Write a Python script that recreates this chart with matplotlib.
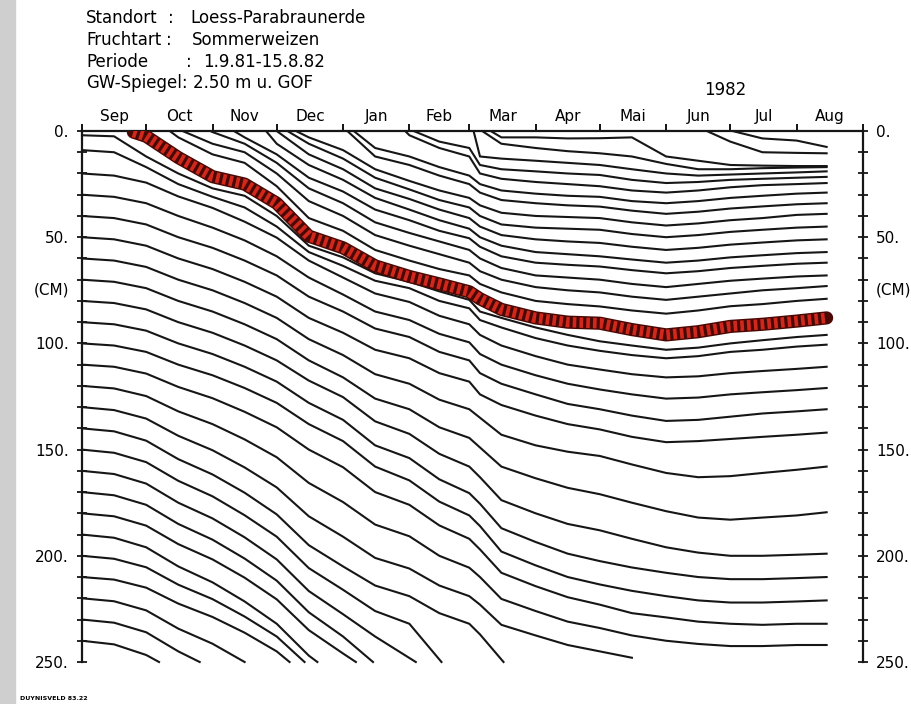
import matplotlib.pyplot as plt
from matplotlib.patches import Rectangle
from matplotlib.transforms import blended_transform_factory

# time axis: days after 1.9.81
node_days = [0, 15, 30, 45, 61, 76, 91, 106, 122, 137, 153, 167, 181, 186, 196,
             212, 227, 242, 257, 273, 288, 303, 318, 334, 348]
month_edges = [0, 30, 61, 91, 122, 153, 181, 212, 242, 273, 303, 334, 365]
month_names = ['Sep', 'Oct', 'Nov', 'Dec', 'Jan', 'Feb', 'Mar', 'Apr', 'Mai', 'Jun', 'Jul', 'Aug']

# lines starting on the left axis (depth in cm at node_days, from day 0 on)
left_depths = [
    [2, 2.5, 12, 20, 27, 30.5, 40, 54, 59.5, 67, 71, 75.5, 79.5, 85, 88, 92.5, 96, 99, 101, 103, 102, 100, 98.5, 97, 96],
    [9, 10, 17, 25, 31, 36, 45, 57, 63.5, 70.5, 74, 80, 83.5, 89, 92.5, 97.5, 101, 103.5, 105.5, 107, 106, 104, 103, 101.5, 100.6],
    [20, 21, 24.3, 30.8, 36.2, 42.7, 50.2, 61, 69, 76.5, 80.5, 87, 91, 96, 101, 106, 110, 112.3, 114.5, 116, 115.5, 114, 113, 112, 111],
    [30, 31, 34, 40, 45.5, 51.5, 59, 69, 77, 85, 89, 95.5, 99.5, 105, 110, 115, 119, 121.7, 124, 126, 125.5, 124, 123, 122, 121],
    [40, 41, 44, 50, 55, 61, 68, 78, 85, 93, 97, 104, 108, 114, 119, 124, 128.5, 131, 134, 136.5, 136, 134.5, 133, 132, 131],
    [50, 51, 54, 60, 65, 71, 78, 88, 95, 103, 107, 114, 118, 124, 129, 134, 138, 140.5, 144, 146.5, 146, 145, 144, 143, 142],
    [60, 61, 64, 70, 75, 81, 88, 98, 105.5, 114.5, 119, 126.5, 131, 135, 143, 148, 151, 153, 157, 161, 163, 162.5, 161, 159.5, 158],
    [70, 71, 74, 80, 85, 91, 98, 108, 116, 126, 131, 139.5, 144.5, 149, 158, 163.5, 168, 171, 175, 179, 182, 183, 182, 181, 179.5],
    [80, 81, 84, 90, 95, 101, 108, 117.5, 125.3, 136.7, 142.6, 152, 158, 163, 173.8, 180, 185, 188, 192, 196, 198.5, 200, 200, 199.5, 199],
    [90, 91, 94, 100, 105, 111, 118, 128, 136, 148, 154, 164, 170.5, 175.5, 187, 193.5, 199, 202.5, 205.5, 208, 210, 211, 211, 210.5, 210],
    [100, 101, 104, 110, 115, 121, 128, 138, 146, 158, 164.5, 174.5, 181, 186, 198, 204.5, 210, 213.5, 216.5, 219, 221, 222, 222, 221.5, 221],
    [110, 111, 114.2, 120.5, 125.8, 132.2, 139.5, 150, 158.3, 170, 176, 185.7, 192, 197, 208, 214.3, 219.5, 223, 227, 229, 231, 232, 232.5, 232, 232],
    [120, 121.2, 124.8, 132, 138, 145.2, 153.6, 165.7, 174.7, 185.3, 190.8, 200, 205.6, 210, 220.3, 226, 231, 234, 237.5, 240, 241.5, 242.5, 242.5, 242, 242],
    [130, 131.4, 135.4, 143.5, 150.3, 158.4, 167.8, 181.4, 191, 201, 206, 214, 219, 223, 232.5, 237.5, 242, 245],
    [140, 141.4, 145.8, 154.5, 161.7, 170.3, 180.5, 195, 205, 214, 219, 227, 232, 237],
    [150, 151.5, 155.9, 164.7, 172, 180.9, 191, 205.8, 216, 226, 232],
    [160, 161.5, 166, 175, 182.4, 191.3, 201.7, 216.6, 227.5, 238],
    [170, 171.5, 176, 185, 192.4, 201.3, 211.7, 226.6, 238],
    [180, 181.4, 185.8, 194.5, 201.7, 210.3, 220.5, 235, 246],
    [190, 191.5, 196, 205, 212.5, 221.5, 232, 247],
    [200, 201.4, 205.4, 213.6, 220.4, 228.6, 238],
    [210, 211.2, 215, 222.5, 228.8, 236.2, 245],
    [220, 221.4, 225.7, 234.3, 241.4],
    [230, 231.5, 236, 245],
    [240, 241.7, 246.7],
]
# last point of the lines that leave the plot (day, depth); None = runs to the end
left_end = [None] * 13 + [(257, 248), (197, 250), (168, 250), (156, 250), (136, 250),
                          (128, 250), (110, 250), (104, 250), (97, 250), (76, 250),
                          (55, 250), (36, 250)]

# lines starting at the surface: start day, then depths at the following node_days
top_start = [41, 47, 60, 71, 86, 91, 96, 100, 124, 127, 151, 155, 183, 187, 191, 292, 304]
top_depths = [
    [3, 11, 15, 26, 41, 47, 56, 61, 65, 68, 72, 76, 80, 81.5, 82.6, 84.5, 86, 84.5, 82.5, 81.5, 80, 79],
    [6, 10, 20, 33, 40, 49, 54, 58, 62, 66, 70, 73.5, 75, 76, 78, 79.5, 78, 76.5, 75, 74, 73],
    [0.5, 6, 15, 27, 34, 43, 48, 52, 56, 60, 64.5, 68, 69, 70, 72, 73.5, 72, 70.5, 69.5, 68.5, 68],
    [3, 11, 22, 28.5, 37, 42, 47, 50.5, 54.5, 59, 62, 63, 63.8, 65.5, 67, 66, 64.5, 63.5, 62.5, 62],
    [6, 16, 23, 31.5, 37, 42, 46, 50, 54, 57, 58, 59, 60.5, 62, 61, 59.5, 58.5, 57.5, 57],
    [11, 18, 27, 32, 37, 41, 45, 49, 51, 52, 52.7, 54.5, 56, 55, 53.5, 52.5, 51.5, 51],
    [6, 13, 22, 27.5, 32.5, 36, 40, 44, 45.5, 46, 46.5, 48.5, 50, 49, 47.5, 46.5, 45.5, 45],
    [3, 9, 18, 23.5, 28, 31.5, 35, 38.5, 40, 40.5, 41, 43, 44.5, 43.5, 42, 41, 39.5, 39],
    [12, 16, 21, 25, 29, 32.5, 34, 35, 35.6, 37.5, 39, 38, 36.5, 35.5, 34.5, 34],
    [8, 12, 17, 21, 25, 28, 29.5, 30.5, 31, 33, 34, 33, 31.5, 30.5, 29.5, 29],
    [2, 8, 12, 20, 22.5, 24, 25, 26, 28, 29, 28, 26.5, 25.5, 25, 24.5],
    [5, 8, 16, 18, 19, 20, 20.7, 23, 24.5, 24, 23, 22.5, 22, 21.6],
    [12, 13, 14, 15, 16, 18, 20, 21, 20.5, 20, 19.5, 19],
    [6, 8, 9.5, 10.5, 12, 15.5, 18, 18, 17.5, 17.2, 17],
    [3, 3, 3.5, 3.4, 3, 12, 14, 16, 16.3, 16.5, 16.5],
    [5, 10, 10.3, 10.5],
    [3.5, 4.5, 7.5],
]

# highlighted water front
red_start = 24
red_depths = [2.5, 12.5, 21.5, 25, 34, 49.5, 55, 63.5, 68.5, 72, 75.7, 79, 84, 88, 90,
              90.5, 93.5, 96, 94.5, 92, 91, 89.5, 88]

header_labels = ['Standort', 'Fruchtart', 'Periode', 'GW-Spiegel:']
header_seps = [':', ':', ':', '']
header_values = ['Loess-Parabraunerde', 'Sommerweizen', '1.9.81-15.8.82', '2.50 m u. GOF']

W, H = 911, 704
fig = plt.figure(figsize=(W / 100, H / 100), dpi=100)
fig.patches.append(Rectangle((0, 0), 15 / W, 1, transform=fig.transFigure,
                             color='#cfcfcf', zorder=-5))
ax = fig.add_axes([82 / W, 1 - 662 / H, (863 - 82) / W, (662 - 131) / H])

ink = '#161616'
for vals, end in zip(left_depths, left_end):
    x = node_days[:len(vals)]
    y = list(vals)
    if end is not None:
        x = x + [end[0]]
        y = y + [end[1]]
    ax.plot(x, y, color=ink, lw=1.5, solid_joinstyle='round', clip_on=False)

for start, vals in zip(top_start, top_depths):
    x = [start] + node_days[-len(vals):]
    y = [0] + list(vals)
    ax.plot(x, y, color=ink, lw=1.5, solid_joinstyle='round')

rx = [red_start] + node_days[-len(red_depths):]
ry = [0.5] + red_depths
ax.plot(rx, ry, color='#4a0804', lw=9.5, solid_capstyle='round', solid_joinstyle='round', zorder=5)
ax.plot(rx, ry, color='#d0281c', lw=7.5, dashes=(0.35, 0.3), zorder=6)

ax.set_xlim(0, 365)
ax.set_ylim(250, 0)
ax.spines['bottom'].set_visible(False)
for s in ['left', 'right', 'top']:
    ax.spines[s].set_linewidth(1.6)
    ax.spines[s].set_color(ink)

ax.xaxis.tick_top()
ax.set_xticks(month_edges)
ax.set_xticklabels([])
ax.set_xticks([(a + b) / 2 for a, b in zip(month_edges[:-1], month_edges[1:])], minor=True)
ax.set_xticklabels(month_names, minor=True)
ax.tick_params(axis='x', which='major', direction='out', length=5, width=1.3,
               top=True, bottom=False, labeltop=False, labelbottom=False)
ax.tick_params(axis='x', which='minor', length=0, top=True, bottom=False,
               labeltop=True, labelbottom=False, labelsize=11, pad=5)

ax.set_yticks([0, 50, 100, 150, 200, 250])
ax.set_yticklabels(['0.', '50.', '100.', '150.', '200.', '250.'])
ax.set_yticks(range(0, 251, 10), minor=True)
ax.tick_params(axis='y', which='both', direction='inout', length=7, width=1.3,
               left=True, right=True, labelleft=True, labelright=True,
               labelsize=11, pad=6, color=ink)

tr = blended_transform_factory(ax.transAxes, ax.transData)
ax.text(-0.016, 75, '(CM)', transform=tr, ha='right', va='center', fontsize=11)
ax.text(1.016, 75, '(CM)', transform=tr, ha='left', va='center', fontsize=11)

fig.text(725 / W, 1 - 90 / H, '1982', ha='center', va='center', fontsize=12)

label_y = [18, 40, 62, 83]
sep_x = [168, 166, 186, None]
value_x = [190, 192, 203, 193]
for lab, sep, val, yy, sx, vx in zip(header_labels, header_seps, header_values,
                                      label_y, sep_x, value_x):
    fig.text(86 / W, 1 - yy / H, lab, ha='left', va='center', fontsize=12)
    if sep:
        fig.text(sx / W, 1 - yy / H, sep, ha='left', va='center', fontsize=12)
    fig.text(vx / W, 1 - yy / H, val, ha='left', va='center', fontsize=12)

fig.text(20 / W, 1 - 699 / H, 'DUYNISVELD 83.22', ha='left', va='center',
         fontsize=4.5, fontweight='bold')

fig.savefig('out.png', dpi=100)
